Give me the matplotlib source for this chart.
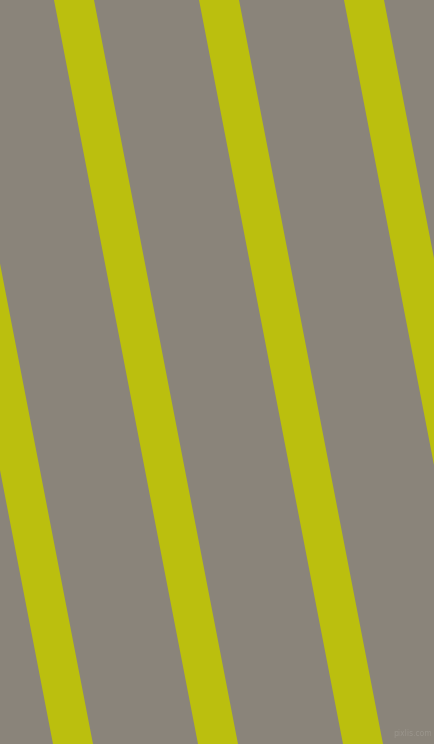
import matplotlib
matplotlib.use("Agg")
import matplotlib.pyplot as plt
import numpy as np

# stripe left-edge x positions at the top (y=0), in pixels
stripe_top_x = [-91, 54, 199, 344, 489]
stripe_width = 40
stripe_drift = 144  # horizontal shift from top to bottom

W, H = 434, 744
bg = "#8A847A"
fg = "#BBBF0E"

fig = plt.figure(figsize=(W / 100, H / 100), dpi=100)
fig.patch.set_facecolor(bg)
ax = fig.add_axes([0, 0, 1, 1])
ax.set_facecolor(bg)
ax.set_xlim(0, W)
ax.set_ylim(H, 0)
ax.axis("off")

y = np.array([0, H])
for x0 in stripe_top_x:
    left = x0 + stripe_drift * y / H
    ax.fill_betweenx(y, left, left + stripe_width, color=fg, linewidth=0)

ax.text(432, 733, "pixlis.com", color="#9A958C", fontsize=5.5,
        ha="right", va="center")

fig.savefig("out.png", dpi=100, facecolor=bg)
